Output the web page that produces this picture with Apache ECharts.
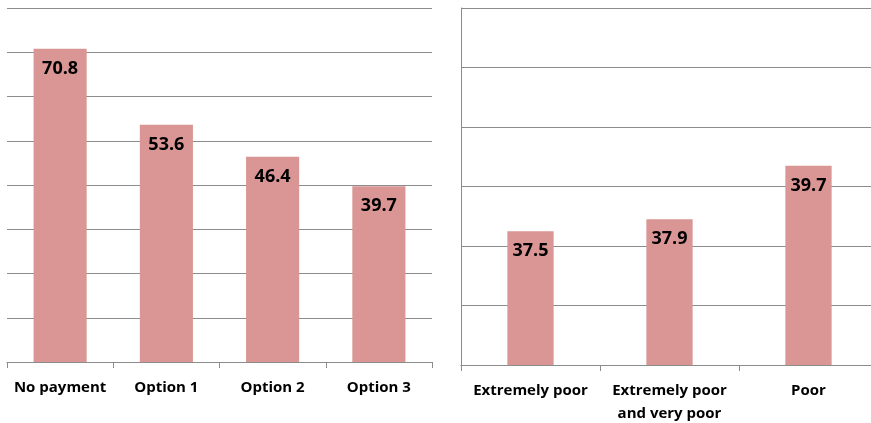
<!DOCTYPE html>
<html>
<head>
<meta charset="utf-8">
<script src="https://cdn.jsdelivr.net/npm/echarts@6/dist/echarts.min.js"></script>
<style>
  html, body { margin: 0; padding: 0; background: #ffffff; }
  #chart { width: 871px; height: 423px; }
</style>
</head>
<body>
<div id="chart"></div>
<script>
// Left panel: payment options
const paymentCategories = ['No payment', 'Option 1', 'Option 2', 'Option 3'];
const paymentValues = [70.8, 53.6, 46.4, 39.7];

// Right panel: poverty groups
const povertyCategories = ['Extremely poor', 'Extremely poor\nand very poor', 'Poor'];
const povertyValues = [37.5, 37.9, 39.7];

const FONT = '"Open Sans", Lato, sans-serif';
const BAR_COLOR = '#d99694';
const GRID_COLOR = '#8c8c8c';

const labelStyle = {
  show: true,
  position: 'insideTop',
  distance: 11,
  color: '#000000',
  fontFamily: FONT,
  fontWeight: 'bold',
  fontSize: 18,
  formatter: p => p.value.toFixed(1)
};

const categoryLabel = {
  color: '#000000',
  fontFamily: FONT,
  fontWeight: 'bold',
  fontSize: 15,
  lineHeight: 23,
  margin: 14,
  interval: 0
};

const chart = echarts.init(document.getElementById('chart'), null, { renderer: 'canvas' });

chart.setOption({
  animation: false,
  backgroundColor: '#ffffff',
  grid: [
    { left: 7, top: 8, width: 425, height: 354, containLabel: false, outerBoundsMode: 'none' },
    // the right panel runs slightly past the page edge
    { left: 461, top: 8, width: 417, height: 357, containLabel: false, outerBoundsMode: 'none' }
  ],
  xAxis: [
    {
      type: 'category', gridIndex: 0, data: paymentCategories,
      axisLine: { show: true, lineStyle: { color: GRID_COLOR, width: 1 } },
      axisTick: { show: true, length: 6, lineStyle: { color: GRID_COLOR } },
      axisLabel: categoryLabel
    },
    {
      type: 'category', gridIndex: 1, data: povertyCategories,
      axisLine: { show: true, lineStyle: { color: GRID_COLOR, width: 1 } },
      axisTick: { show: true, length: 6, lineStyle: { color: GRID_COLOR } },
      axisLabel: categoryLabel
    }
  ],
  yAxis: [
    {
      type: 'value', gridIndex: 0, min: 0, max: 80, interval: 10,
      axisLine: { show: false }, axisTick: { show: false }, axisLabel: { show: false },
      splitLine: { show: true, lineStyle: { color: GRID_COLOR, width: 1 } }
    },
    {
      // lines every 2 units counted up from 33
      type: 'value', gridIndex: 1, min: 33, max: 45, interval: 2,
      axisLine: { show: true, lineStyle: { color: GRID_COLOR, width: 1 } },
      axisTick: { show: false }, axisLabel: { show: false },
      splitLine: { show: true, lineStyle: { color: GRID_COLOR, width: 1 } }
    }
  ],
  series: [
    {
      type: 'bar', xAxisIndex: 0, yAxisIndex: 0, data: paymentValues,
      barWidth: '50%', itemStyle: { color: BAR_COLOR }, label: labelStyle
    },
    {
      type: 'bar', xAxisIndex: 1, yAxisIndex: 1, data: povertyValues,
      barWidth: '33.3%', itemStyle: { color: BAR_COLOR }, label: labelStyle
    }
  ]
});
</script>
</body>
</html>
